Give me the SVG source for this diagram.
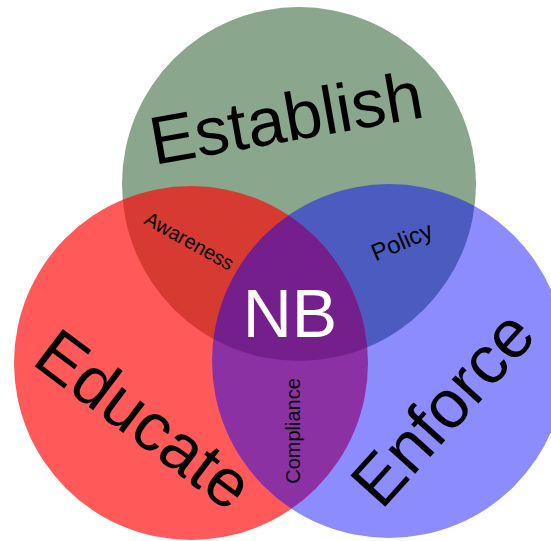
<svg xmlns="http://www.w3.org/2000/svg" width="551" height="541" viewBox="0 0 551 541">
<style>
text{font-family:"Liberation Sans",Arial,sans-serif;text-anchor:middle;fill:#000}
.big{font-size:68px}
.small{font-size:20px}
</style>
<rect width="551" height="541" fill="#fff"/>
<g id="establish-circle"><circle cx="299" cy="184" r="177" fill="#8aa68c"/></g>
<g id="educate-circle"><circle cx="191" cy="363" r="177" fill="#ff0000" fill-opacity="0.65"/></g>
<g id="enforce-circle"><circle cx="389" cy="361" r="177" fill="#0000ff" fill-opacity="0.45"/></g>
<g id="labels">
<text class="big" transform="translate(290,141) rotate(-10)">Establish</text>
<text class="big" transform="translate(130,438) rotate(37)">Educate</text>
<text class="big" transform="translate(460,424) rotate(-48)">Enforce</text>
<text class="big" x="290" y="337" style="fill:#fff">NB</text>
<text class="small" transform="translate(186,247) rotate(29)">Awareness</text>
<text style="font-size:24px" transform="translate(405,249) rotate(-23)">Policy</text>
<text class="small" transform="translate(300,431) rotate(-90)">Compliance</text>
</g>
</svg>
